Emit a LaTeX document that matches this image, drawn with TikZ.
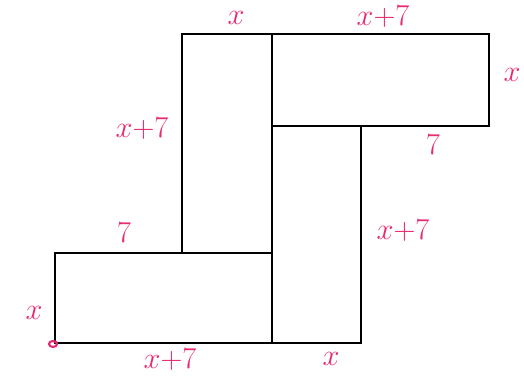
\documentclass[tikz,border=0pt]{standalone}
\definecolor{ink}{RGB}{232,40,112}
\begin{document}
\begin{tikzpicture}[x=0.02cm,y=-0.02cm,lbl/.style={text=ink,font=\LARGE}]
    \useasboundingbox (0,0) rectangle (524,381);
    \draw[line width=1.2pt] (182,34) rectangle (272,253);
    \draw[line width=1.2pt] (272,34) rectangle (489,126);
    \draw[line width=1.2pt] (272,126) rectangle (361,343);
    \draw[line width=1.2pt] (55,253) rectangle (272,343);
    \draw[ink, line width=1.2pt] (53,344) ellipse (4 and 3);
    \node[lbl] (topx) at (236,18) {$x$};
    \node[lbl] (topxs) at (383,17) {$x{+}7$};
    \node[lbl] (rightx) at (512,75) {$x$};
    \node[lbl] (leftxs) at (142,129) {$x{+}7$};
    \node[lbl] (midsev) at (433,145) {$7$};
    \node[lbl] (lowsev) at (124,233) {$7$};
    \node[lbl] (rightxs) at (403,231) {$x{+}7$};
    \node[lbl] (leftx) at (34,313) {$x$};
    \node[lbl] (botxs) at (170,360) {$x{+}7$};
    \node[lbl] (botx) at (331,359) {$x$};
\end{tikzpicture}
\end{document}
